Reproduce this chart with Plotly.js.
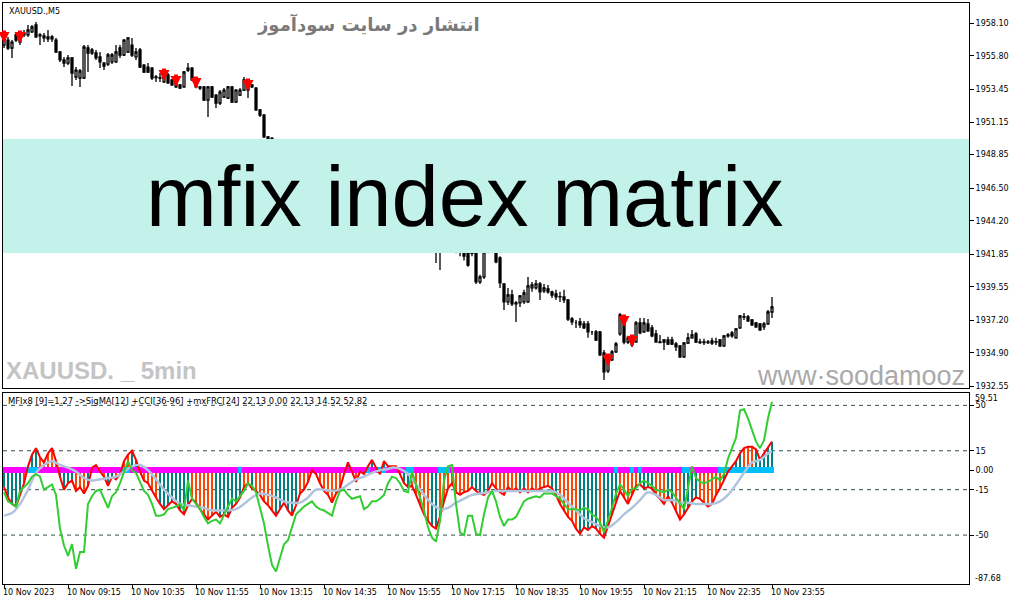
<!DOCTYPE html>
<html>
<head>
<meta charset="utf-8">
<script src="https://cdn.plot.ly/plotly-3.0.1.min.js"></script>
<style>html,body{margin:0;padding:0;background:#fff;}#chart{width:1015px;height:605px;}</style>
</head>
<body>
<div id="chart"></div>
<script>
// ---------- DATA ----------
const openP = [
1956.57,1956.92,1956.36,1957.28,1956.78,1957.28,1957.28,1957.49,1957.98,1957.21,
1957.21,1957.14,1957.00,1956.92,1956.08,1955.52,1955.30,1955.66,1954.32,1954.25,
1954.25,1956.36,1956.01,1956.01,1955.73,1955.30,1955.23,1955.38,1955.38,1956.36,
1955.87,1956.08,1956.57,1955.73,1956.22,1955.16,1955.02,1954.95,1954.32,1954.25,
1953.97,1954.46,1954.11,1953.97,1953.76,1953.62,1954.81,1954.95,1954.11,1953.62,
1953.62,1952.70,1953.62,1953.05,1952.49,1952.91,1952.84,1953.62,1952.56,1953.05,
1953.40,1953.90,1953.76,1953.54,1952.00,1951.64,1950.10,1950.00,1949.40,1948.60,
1948.90,1948.10,1947.50,1947.90,1947.20,1946.60,1947.10,1947.60,1947.30,1946.70,
1946.20,1946.60,1946.40,1946.90,1947.40,1947.00,1946.50,1946.10,1945.60,1945.90,
1945.40,1945.00,1945.30,1945.80,1945.50,1944.90,1944.40,1944.70,1944.20,1943.80,
1944.20,1944.60,1944.10,1943.60,1943.20,1943.50,1943.00,1942.60,1942.90,1942.50,
1942.80,1943.20,1943.00,1943.40,1942.90,1942.40,1941.95,1941.90,1941.93,1939.89,
1940.24,1942.10,1942.30,1942.40,1941.58,1939.75,1938.48,1938.97,1938.41,1938.41,
1938.48,1938.48,1939.47,1939.47,1939.75,1939.26,1939.40,1939.19,1939.05,1938.86,
1938.83,1938.62,1937.28,1937.00,1937.07,1936.93,1936.93,1936.37,1936.37,1936.37,
1934.89,1933.62,1934.40,1934.96,1936.23,1937.42,1935.66,1935.80,1935.66,1937.00,
1936.37,1936.93,1936.65,1936.23,1935.66,1935.66,1935.80,1935.80,1935.52,1935.38,
1934.61,1935.59,1935.95,1936.23,1935.66,1935.62,1935.66,1935.59,1935.66,1935.80,
1935.38,1936.09,1936.30,1935.95,1936.65,1937.42,1937.42,1937.21,1937.00,1936.93,
1936.72,1936.93,1937.77
];
const highP = [
1957.42,1957.14,1956.92,1957.42,1957.42,1957.63,1957.98,1957.98,1958.19,1957.42,
1957.42,1957.63,1957.28,1957.07,1956.15,1955.73,1955.87,1955.73,1955.02,1954.88,
1956.57,1956.57,1956.36,1956.22,1956.08,1955.38,1956.01,1956.01,1956.57,1956.57,
1957.00,1957.14,1957.07,1956.36,1956.36,1955.23,1955.30,1955.02,1954.46,1954.60,
1954.74,1954.60,1954.18,1954.04,1953.83,1954.74,1955.30,1955.02,1954.18,1953.69,
1953.69,1953.69,1953.69,1953.12,1953.40,1953.54,1953.69,1953.69,1953.47,1953.54,
1954.32,1954.04,1953.83,1953.62,1952.07,1951.71,1950.17,1950.10,1949.50,1949.10,
1949.00,1948.30,1948.10,1948.00,1947.40,1947.30,1947.90,1947.80,1947.50,1946.90,
1946.90,1946.80,1947.10,1947.60,1947.50,1947.20,1946.70,1946.30,1946.10,1946.00,
1945.60,1945.50,1946.00,1946.00,1945.70,1945.10,1944.90,1944.80,1944.40,1944.40,
1944.80,1944.70,1944.30,1943.80,1943.70,1943.60,1943.20,1943.10,1943.00,1943.00,
1943.40,1943.50,1943.60,1943.50,1943.30,1942.60,1942.20,1942.30,1942.20,1940.40,
1942.60,1942.80,1942.90,1942.80,1941.70,1939.82,1939.47,1939.33,1938.55,1938.97,
1939.33,1940.24,1939.89,1940.03,1939.89,1939.75,1939.68,1939.26,1939.33,1939.19,
1939.33,1938.69,1937.42,1937.21,1937.35,1937.14,1937.14,1936.44,1936.51,1936.44,
1935.10,1934.75,1935.10,1935.66,1937.70,1937.56,1936.10,1935.95,1937.14,1937.35,
1937.35,1937.28,1936.86,1936.51,1936.16,1935.87,1936.02,1936.02,1935.66,1935.45,
1935.66,1936.30,1936.51,1936.37,1935.88,1935.88,1935.80,1935.95,1935.95,1935.87,
1936.16,1936.30,1936.44,1936.65,1937.56,1937.70,1937.56,1937.28,1937.07,1937.00,
1937.07,1937.91,1938.83
];
const lowP = [
1956.36,1956.22,1955.66,1956.78,1956.57,1957.14,1957.14,1957.42,1957.07,1956.57,
1956.78,1956.78,1956.78,1956.01,1955.38,1955.02,1955.16,1953.69,1954.11,1953.62,
1954.18,1954.67,1955.87,1955.52,1954.95,1954.81,1955.09,1955.23,1955.30,1955.66,
1955.80,1956.01,1955.73,1955.52,1954.95,1954.60,1954.60,1954.11,1953.97,1953.97,
1953.90,1953.83,1953.69,1953.54,1953.47,1953.54,1954.67,1954.04,1953.54,1953.40,
1952.63,1951.50,1952.84,1952.14,1952.35,1952.84,1952.77,1952.49,1952.49,1952.98,
1953.33,1952.84,1953.54,1951.93,1951.50,1950.03,1949.90,1949.20,1948.40,1948.30,
1947.90,1947.30,1947.20,1946.90,1946.40,1946.40,1946.90,1947.00,1946.50,1945.90,
1946.00,1946.10,1946.20,1946.70,1946.80,1946.30,1945.80,1945.40,1945.30,1945.20,
1944.70,1944.80,1945.10,1945.20,1944.70,1944.20,1944.10,1943.90,1943.50,1943.60,
1944.00,1943.80,1943.30,1942.90,1942.90,1942.70,1942.40,1942.40,1941.22,1940.73,
1942.50,1942.60,1942.70,1941.90,1941.70,1941.40,1940.95,1941.70,1939.75,1939.75,
1940.10,1941.90,1942.10,1941.20,1939.47,1937.92,1938.27,1938.20,1937.07,1938.13,
1938.34,1938.41,1939.19,1939.33,1938.62,1939.11,1939.05,1938.76,1938.62,1938.48,
1938.41,1937.14,1936.86,1936.65,1936.65,1936.58,1935.95,1936.16,1935.73,1934.68,
1932.99,1933.48,1934.33,1934.89,1936.10,1935.50,1935.52,1935.30,1935.60,1936.20,
1936.30,1936.37,1936.00,1935.60,1935.59,1935.10,1935.45,1935.45,1935.03,1934.54,
1934.54,1935.52,1935.88,1935.59,1935.52,1935.45,1935.52,1935.45,1935.45,1935.31,
1935.31,1935.95,1935.95,1935.88,1936.58,1937.21,1937.07,1936.79,1936.65,1936.44,
1936.51,1936.86,1937.35
];
const closeP = [
1957.28,1956.36,1956.78,1956.92,1957.28,1957.42,1957.63,1957.84,1957.14,1957.28,
1957.07,1957.00,1957.14,1956.08,1955.52,1955.30,1955.66,1954.60,1954.81,1954.74,
1956.43,1956.01,1956.22,1955.66,1955.38,1955.09,1955.87,1955.87,1956.08,1955.87,
1956.92,1957.07,1955.87,1956.08,1955.02,1954.67,1954.67,1954.25,1954.28,1954.28,
1954.67,1953.90,1953.76,1953.62,1953.54,1954.67,1954.95,1954.11,1953.62,1953.54,
1952.70,1953.62,1952.91,1952.49,1953.26,1953.40,1953.62,1952.56,1953.40,1953.40,
1954.11,1953.40,1953.62,1952.00,1951.64,1950.10,1950.00,1949.40,1948.60,1948.90,
1948.10,1947.50,1947.90,1947.20,1946.60,1947.10,1947.60,1947.30,1946.70,1946.20,
1946.60,1946.40,1946.90,1947.40,1947.00,1946.50,1946.10,1945.60,1945.90,1945.40,
1945.00,1945.30,1945.80,1945.50,1944.90,1944.40,1944.70,1944.20,1943.80,1944.20,
1944.60,1944.10,1943.60,1943.20,1943.50,1943.00,1942.60,1942.90,1942.50,1942.80,
1943.20,1943.00,1943.40,1942.90,1942.40,1941.70,1941.08,1942.00,1939.89,1940.24,
1942.00,1942.30,1942.60,1941.30,1939.82,1938.48,1938.97,1938.34,1938.34,1938.90,
1939.11,1939.61,1939.68,1939.75,1939.19,1939.47,1939.19,1938.97,1938.83,1938.83,
1938.62,1937.28,1937.07,1937.00,1936.86,1936.65,1936.37,1936.37,1935.80,1934.75,
1933.55,1934.40,1934.96,1935.52,1937.56,1935.66,1935.95,1935.45,1937.00,1936.30,
1937.00,1936.44,1936.10,1935.66,1935.62,1935.80,1935.52,1935.52,1935.31,1934.61,
1935.59,1935.95,1936.16,1935.66,1935.62,1935.66,1935.62,1935.73,1935.69,1935.38,
1936.09,1936.16,1936.09,1936.58,1937.49,1937.45,1937.14,1936.86,1936.72,1936.51,
1936.93,1937.77,1938.13
];
// sell-signal arrows (candle index, price at arrow tip)
const arrowIdx   = [0, 4, 40, 43, 48, 61, 151, 155, 157];
const arrowPrice = [1956.71,1956.71,1954.04,1953.62,1953.47,1953.33,1933.97,1936.72,1935.31];

// price-axis ticks
const priceTicks = [1958.10,1955.80,1953.45,1951.15,1948.85,1946.50,1944.20,1941.85,1939.55,1937.20,1934.90,1932.55];
// time ticks (candle index / label)
const timeIdx    = [0,16,32,48,64,80,96,112,128,144,160,176,192];
const timeLabels = ["10 Nov 2023","10 Nov 09:15","10 Nov 10:35","10 Nov 11:55","10 Nov 13:15","10 Nov 14:35",
                    "10 Nov 15:55","10 Nov 17:15","10 Nov 18:35","10 Nov 19:55","10 Nov 21:15","10 Nov 22:35","10 Nov 23:55"];

// indicator: MFIx8 main line / histogram
const mfi = [
-13,-21,-26,-28,-19,-10,3,12,17,10,
6,13,17,7,-5,-15,-10,-8,-16,-13,
-18,-12,2,4,-1,-5,-12,-5,-7,-3,
7,12,15,8,-1,-8,-10,-16,-21,-26,
-30,-27,-24,-26,-31,-34,-27,-22,-25,-30,
-34,-38,-35,-32,-36,-34,-36,-29,-26,-21,
-13,-10,-14,-16,-19,-24,-27,-31,-35,-30,
-25,-31,-35,-27,-18,-15,-9,0,-3,-10,
-16,-19,-25,-18,-14,-3,6,-1,-9,-1,
-3,3,8,2,-3,7,3,3,3,-3,
-10,-13,-12,-19,-26,-34,-39,-43,-45,-36,
-24,-14,-10,-17,-19,-17,-16,-13,-16,-18,
-19,-16,-10,-14,-17,-19,-13,-16,-14,-17,
-14,-17,-14,-16,-14,-13,-12,-14,-19,-26,
-31,-36,-39,-45,-49,-44,-46,-43,-45,-49,
-52,-43,-34,-24,-16,-21,-26,-19,-12,-11,
-14,-13,-14,-19,-22,-26,-20,-25,-31,-38,
-34,-29,-24,-21,-22,-25,-28,-26,-19,-14,
-7,-1,3,7,13,17,18,18,16,8,
13,18,22.13
];
// histogram colour state: 1 = teal, 0 = orange
const histState = [
1,1,1,1,1,0,1,1,1,0, 0,0,0,0,1,1,1,1,0,0, 0,1,0,0,0,0,1,1,0,0, 0,0,1,1,0,0,0,0,0,1,
1,1,1,1,1,1,1,0,0,0, 0,0,0,1,1,1,1,1,1,1, 0,0,1,0,0,0,0,0,1,1, 1,1,1,1,0,0,0,1,1,0,
0,0,0,0,0,1,1,0,0,1, 0,0,1,1,0,1,1,0,0,0, 1,1,0,0,0,0,0,1,1,0, 0,0,0,0,0,0,0,1,1,1,
1,1,0,0,0,0,0,0,0,1, 1,0,0,0,0,0,0,1,1,0, 0,0,0,0,1,1,1,1,1,0, 1,1,1,1,0,0,0,0,0,1,
1,1,1,0,0,0,1,1,0,0, 1,1,1,1,0,0,0,0,0,0, 1,1,1,1,1,0,0,0,1,1, 1,1,1
];
// zero-strip trend state: 1 = magenta, 0 = sky blue
const stripState = [
1,1,1,1,1,1,0,0,0,1, 1,1,1,1,1,1,1,1,1,1, 1,1,1,1,1,1,1,1,1,1, 0,0,1,1,1,1,1,1,1,1,
1,1,1,1,1,1,1,1,1,1, 1,1,1,1,1,1,1,1,1,0, 1,1,1,1,1,1,1,1,1,1, 1,1,1,1,1,1,1,1,1,1,
1,1,1,1,1,1,1,1,1,1, 1,0,1,1,0,0,1,1,1,1, 1,0,0,1,1,1,1,1,1,0, 0,0,1,1,1,1,1,1,1,1,
1,1,1,1,1,1,1,1,1,1, 1,1,1,1,1,1,1,1,1,1, 1,1,1,1,1,1,1,1,1,1, 1,1,1,0,1,1,1,0,1,0,
1,1,1,1,1,1,1,1,1,1, 0,0,1,1,1,1,1,1,1,0, 0,0,0,0,0,0,0,0,0,0, 0,0,0
];
// CCI line
const cci = [
-17,-24,-26,-28,-16,-13,-10,-5,-3,-5,
-15,-13,-11,-19,-45,-58,-66,-57,-76,-63,
-63,-26,-20,-16,-15,-22,-29,-20,-17,-10,
-1,7,0,-2,-9,-16,-19,-26,-35,-35,
-34,-30,-29,-28,-26,-31,-8,-22,-26,-30,
-36,-41,-39,-38,-41,-34,-28,-22,-24,-20,
-16,-10,-12,-17,-29,-41,-58,-73,-78,-68,
-57,-54,-43,-34,-31,-28,-26,-24,-28,-30,
-31,-33,-35,-24,-16,-15,-19,-22,-21,-20,
-30,-28,-24,-24,-22,-19,-10,-5,-6,-10,
-16,-17,-1,-11,-21,-31,-44,-52,-55,-39,
-8,3,4,-26,-48,-50,-35,-35,-49,-50,
-34,-21,-16,-24,-36,-43,-38,-38,-36,-30,
-24,-22,-21,-20,-21,-18,-18,-18,-20,-22,
-26,-30,-30,-30,-31,-29,-30,-34,-36,-40,
-48,-39,-29,-18,-11,-15,-20,-14,-14,-10,
-8,-10,-12,-15,-16,-17,-15,-17,-21,-26,
-30,-14,3,-6,-9,-10,-9,-7,-5,-8,
-3,9,17,25,46,47,40,31,22,17,
23,40,52.82
];
// SigMA line (read at these candle indices)
const sigX = [0,2,4,6,8,10,12,14,16,18,20,22,24,26,28,30,32,34,36,38,40,42,44,46,48,50,52,54,56,58,
60,62,64,66,68,70,72,74,76,78,80,82,84,86,88,90,92,94,96,
97,99,101,103,105,107,109,111,113,115,117,119,121,123,125,127,129,131,133,135,137,139,141,143,145,147,149,
151,153,155,157,159,161,163,165,167,169,171,173,175,177,179,181,183,185,187,189,191,192];
const sigMA = [-35,-33,-26,-15,-2,4,7,4,2,-1,-6,-8,-7,-6,-5,-1,3,4,0,-7,-15,-21,-26,-27,-28,-29,-31,-31,-31,-30,
-26,-21,-18,-19,-21,-24,-25,-25,-21,-15,-15,-16,-15,-11,-7,-5,-2,0,1,
2,1,-3,-11,-19,-26,-30,-29,-25,-22,-19,-18,-17,-16,-16,-16,-16,-16,-16,-16,-16,-19,-25,-31,-37,-40,-43,
-44,-40,-34,-29,-23,-17,-19,-23,-23,-25,-25,-26,-26,-26,-24,-19,-11,-2,6,8,13,14.52];
// indicator levels and axis ticks
const levels = [50, 15, -15, -50];
const indTicks = [50, 15, 0, -15, -50];
const indTickText = ["50","15","0.00","-15","-50"];
const indMax = 59.51, indMin = -87.68;

// ---------- CHART ----------
const idx = openP.map((_, i) => i);
const FONT = "DejaVu Sans, Tahoma, sans-serif";
const STRIP_H = 4.6;

const traces = [
  {
    type: 'candlestick', x: idx, open: openP, high: highP, low: lowP, close: closeP,
    xaxis: 'x2', yaxis: 'y',
    increasing: {line: {color: '#000', width: 1.3}, fillcolor: '#fff'},
    decreasing: {line: {color: '#000', width: 1.3}, fillcolor: '#000'},
    whiskerwidth: 0, hoverinfo: 'skip', showlegend: false
  },
  {
    type: 'bar', x: idx, y: mfi.map((v, i) => histState[i] === 0 ? v : null),
    marker: {color: '#FF4500', line: {width: 0}}, width: 0.5, xaxis: 'x', yaxis: 'y2',
    hoverinfo: 'skip', showlegend: false
  },
  {
    type: 'bar', x: idx, y: mfi.map((v, i) => histState[i] === 1 ? v : null),
    marker: {color: '#008080', line: {width: 0}}, width: 0.5, xaxis: 'x', yaxis: 'y2',
    hoverinfo: 'skip', showlegend: false
  },
  {
    type: 'bar', x: idx, y: stripState.map(s => s === 1 ? STRIP_H : null), base: -STRIP_H / 2,
    marker: {color: '#FF00FF', line: {width: 0}}, width: 1, xaxis: 'x', yaxis: 'y2',
    hoverinfo: 'skip', showlegend: false
  },
  {
    type: 'bar', x: idx, y: stripState.map(s => s === 0 ? STRIP_H : null), base: -STRIP_H / 2,
    marker: {color: '#00BFFF', line: {width: 0}}, width: 1, xaxis: 'x', yaxis: 'y2',
    hoverinfo: 'skip', showlegend: false
  },
  {
    type: 'scatter', mode: 'lines', x: idx, y: mfi, xaxis: 'x', yaxis: 'y2',
    line: {color: '#FF0000', width: 2}, hoverinfo: 'skip', showlegend: false
  },
  {
    type: 'scatter', mode: 'lines', x: sigX, y: sigMA, xaxis: 'x', yaxis: 'y2',
    line: {color: '#B0C4DE', width: 2.5, shape: 'spline'}, hoverinfo: 'skip', showlegend: false
  },
  {
    type: 'scatter', mode: 'lines', x: idx, y: cci, xaxis: 'x', yaxis: 'y2',
    line: {color: '#32CD32', width: 2}, hoverinfo: 'skip', showlegend: false
  }
];

// paper-fraction helpers from pixel positions of the 1015x605 frame
const L = 3, R = 969, T = 3, B = 584;
const px = x => (x - L) / (R - L);
const py = y => (B - y) / (B - T);

const shapes = [
  {type: 'rect', xref: 'paper', yref: 'paper', x0: 0, x1: 1, y0: py(253), y1: py(139),
   fillcolor: '#C2F2EA', line: {width: 0}, layer: 'above'}
].concat(levels.map(v => ({
  type: 'line', xref: 'paper', yref: 'y2', x0: 0, x1: 1, y0: v, y1: v,
  line: {color: '#2F4F4F', width: 1, dash: '4px,4px'}, layer: 'below'
})));

const arrowAnns = arrowIdx.map((t, k) => ({
  x: t, y: arrowPrice[k], xref: 'x2', yref: 'y', text: '', showarrow: true,
  ax: 0, ay: -14, arrowhead: 2, arrowsize: 0.55, arrowwidth: 4, arrowcolor: '#FF0000', standoff: 0
}));

const annotations = [
  {text: 'XAUUSD.,M5', xref: 'paper', yref: 'paper', x: px(7), y: py(5), xanchor: 'left', yanchor: 'top',
   showarrow: false, font: {family: FONT, size: 8, color: '#000'}},
  {text: '<b>انتشار در سایت سودآموز</b>', xref: 'paper', yref: 'paper', x: px(368), y: py(24),
   xanchor: 'center', yanchor: 'middle', showarrow: false,
   font: {family: 'DejaVu Sans, Noto Sans', size: 18, color: '#7A7A7A'}},
  {text: 'mfix index matrix', xref: 'paper', yref: 'paper', x: px(465), y: py(196),
   xanchor: 'center', yanchor: 'middle', showarrow: false,
   font: {family: 'Liberation Sans, Arial, sans-serif', size: 85, color: '#000'}},
  {text: '<b>XAUUSD. _ 5min</b>', xref: 'paper', yref: 'paper', x: px(4), y: py(370),
   xanchor: 'left', yanchor: 'middle', showarrow: false,
   font: {family: 'Liberation Sans, Arial, sans-serif', size: 24, color: '#C4C4C4'}},
  {text: 'www·soodamooz', xref: 'paper', yref: 'paper', x: px(967), y: py(376),
   xanchor: 'right', yanchor: 'middle', showarrow: false,
   font: {family: 'Liberation Sans, Arial, sans-serif', size: 27, color: '#AAAAAA'}},
  {text: 'MFIx8 [9]=1.27 ->SigMA[12] +CCI[36-96] +mxFRC[24] 22.13 0.00 22.13 14.52 52.82',
   xref: 'paper', yref: 'paper', x: px(6), y: py(401), xanchor: 'left', yanchor: 'middle',
   showarrow: false, font: {family: FONT, size: 8.4, color: '#000'}},
  {text: indMax.toFixed(2), xref: 'paper', yref: 'paper', x: px(973), y: py(398), xanchor: 'left', yanchor: 'middle',
   showarrow: false, font: {family: FONT, size: 8, color: '#000'}},
  {text: indMin.toFixed(2), xref: 'paper', yref: 'paper', x: px(973), y: py(578), xanchor: 'left', yanchor: 'middle',
   showarrow: false, font: {family: FONT, size: 8, color: '#000'}}
].concat(timeIdx.map((t, k) => ({
  text: timeLabels[k], xref: 'x', yref: 'paper', x: t, y: 0, xanchor: 'left', yanchor: 'top',
  xshift: -3, yshift: -2, showarrow: false, font: {family: FONT, size: 8, color: '#000'}
}))).concat(arrowAnns);

const axisLine = {showline: true, linecolor: '#000', linewidth: 1, mirror: true, zeroline: false, showgrid: false};

const layout = {
  width: 1015, height: 605,
  margin: {l: L, r: 1015 - R, t: T, b: 605 - B, pad: 0},
  paper_bgcolor: '#fff', plot_bgcolor: '#fff',
  showlegend: false, barmode: 'overlay', bargap: 0,
  xaxis: Object.assign({}, axisLine, {
    range: [-0.25, 241.25], anchor: 'y2', tickvals: timeIdx, ticks: 'outside', ticklen: 3,
    tickcolor: '#000', showticklabels: false, rangeslider: {visible: false}, fixedrange: true
  }),
  xaxis2: Object.assign({}, axisLine, {
    range: [-0.25, 241.25], anchor: 'y', matches: 'x', showticklabels: false, ticks: '',
    rangeslider: {visible: false}, fixedrange: true
  }),
  yaxis: Object.assign({}, axisLine, {
    domain: [py(388), 1], range: [1932.42, 1959.53], side: 'right', anchor: 'x2',
    tickvals: priceTicks, ticktext: priceTicks.map(v => v.toFixed(2)), ticks: 'outside', ticklen: 4,
    tickcolor: '#000', tickfont: {family: FONT, size: 8, color: '#000'}, fixedrange: true
  }),
  yaxis2: Object.assign({}, axisLine, {
    domain: [0, py(393)], range: [indMin, indMax], side: 'right', anchor: 'x',
    tickvals: indTicks, ticktext: indTickText, ticks: 'outside', ticklen: 4,
    tickcolor: '#000', tickfont: {family: FONT, size: 8, color: '#000'}, fixedrange: true
  }),
  shapes: shapes,
  annotations: annotations
};

Plotly.newPlot('chart', traces, layout, {staticPlot: true, displayModeBar: false});
</script>
</body>
</html>
